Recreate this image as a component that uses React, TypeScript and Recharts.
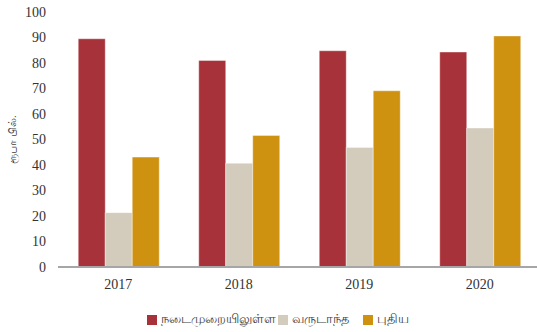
import { BarChart, Bar, XAxis, YAxis, Label } from 'recharts';

const years = ['2017', '2018', '2019', '2020'];
const current = [89.5, 81.0, 84.8, 84.3];
const annual = [21.3, 40.7, 46.9, 54.5];
const fresh = [43.1, 51.6, 69.1, 90.6];
const yTicks = [0, 10, 20, 30, 40, 50, 60, 70, 80, 90, 100];

const seriesNames = ['நடைமுறையிலுள்ள', 'வருடாந்த', 'புதிய'];
const colors = ['#A8323A', '#D3CBBC', '#CF9110'];

const data = years.map((y, i) => ({
  year: y,
  current: current[i],
  annual: annual[i],
  fresh: fresh[i],
}));

const font = '"Liberation Serif", "DejaVu Serif", serif';

function LegendBox() {
  return (
    <div
      style={{
        position: 'absolute',
        left: 10,
        top: 312,
        width: 537,
        display: 'flex',
        justifyContent: 'center',
        alignItems: 'center',
        fontFamily: font,
        fontSize: 12.5,
        color: '#404040',
      }}
    >
      {seriesNames.map((n, i) => (
        <span
          key={n}
          style={{ display: 'flex', alignItems: 'center', marginRight: i === 1 ? 14 : 2 }}
        >
          <span
            style={{
              display: 'inline-block',
              width: 10,
              height: 10,
              background: colors[i],
              marginRight: 4,
            }}
          />
          {n}
        </span>
      ))}
    </div>
  );
}

export default function App() {
  return (
    <div style={{ position: 'absolute', left: 0, top: 0, width: 537, height: 332 }}>
      <BarChart
        width={545}
        height={332}
        data={data}
        margin={{ top: 12, right: 5, bottom: 35, left: 0 }}
        barCategoryGap="16.8%"
        barGap={0}
      >
        <XAxis
          dataKey="year"
          axisLine={{ stroke: '#a6a6a6', strokeWidth: 2 }}
          tickLine={false}
          tickMargin={6}
          tick={{ fontSize: 14, fill: '#333', fontFamily: font }}
        />
        <YAxis
          width={58}
          domain={[0, 100]}
          ticks={yTicks}
          interval={0}
          axisLine={false}
          tickLine={false}
          tickMargin={6}
          tick={{ fontSize: 14, fill: '#333', fontFamily: font }}
        >
          <Label
            value="ரூபா பில்."
            angle={-90}
            position="insideLeft"
            offset={12}
            style={{ fontSize: 11, fill: '#404040', textAnchor: 'middle' }}
          />
        </YAxis>
        <Bar dataKey="current" fill={colors[0]} stroke="#fff" strokeOpacity={0.5} strokeWidth={0.8} isAnimationActive={false} />
        <Bar dataKey="annual" fill={colors[1]} stroke="#fff" strokeOpacity={0.5} strokeWidth={0.8} isAnimationActive={false} />
        <Bar dataKey="fresh" fill={colors[2]} stroke="#fff" strokeOpacity={0.5} strokeWidth={0.8} isAnimationActive={false} />
      </BarChart>
      <LegendBox />
    </div>
  );
}
